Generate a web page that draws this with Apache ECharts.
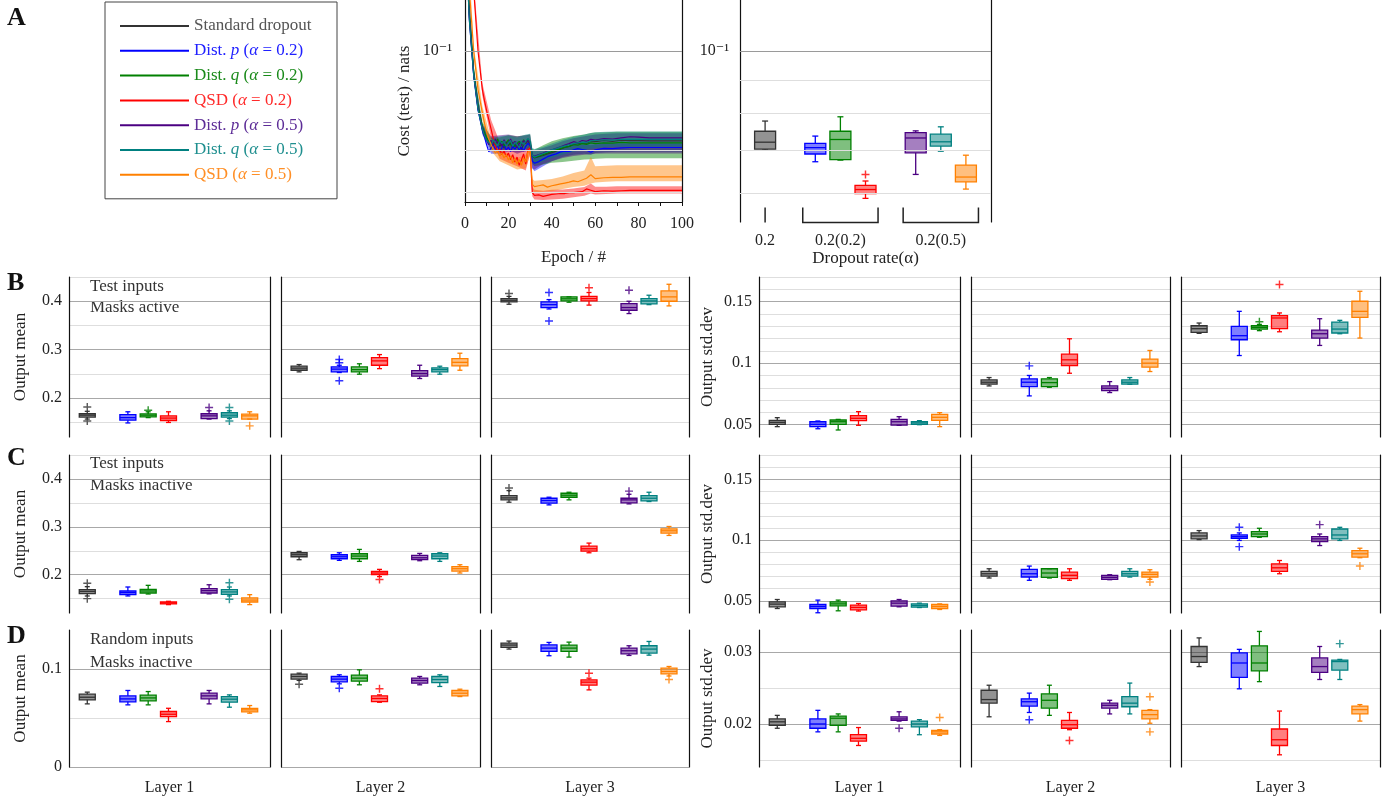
<!DOCTYPE html>
<html>
<head>
<meta charset="utf-8">
<title>Dropout variants: test cost and layer outputs</title>
<script src="https://cdn.jsdelivr.net/npm/echarts@6/dist/echarts.min.js"></script>
<style>
  html, body { margin: 0; padding: 0; background: #fff; }
  #main { width: 1385px; height: 800px; }
</style>
</head>
<body>
<div id="main"></div>
<script>
// ---------------- data ----------------
const NAMES = ['Standard dropout', 'Dist. p (α = 0.2)', 'Dist. q (α = 0.2)', 'QSD (α = 0.2)',
               'Dist. p (α = 0.5)', 'Dist. q (α = 0.5)', 'QSD (α = 0.5)'];

// panel A, left: test cost per epoch (mean of runs)
const EPOCHS = [0,2,4,6,8,9,10,11,12,13,14,15,16,17,18,19,20,21,22,23,24,25,26,27,28,29,30,31,32,
                34,36,38,40,42,44,46,48,50,52,54,56,58,60,64,68,72,76,80,85,90,95,100];
const L_STD = [.16,.114,.0925,.0815,.0758,.0740,.0728,.0720,
  .0716,.0724,.0712,.0721,.0709,.0717,.0704,.0720,.0711,.0718,.0705,.0714,.0707,.0712,.0701,.0714,.0718,.0722,.0715,
  .0685,.0680,
  .0683,.0686,.0690,.0693,.0697,.0702,.0706,.0709,.0714,.0716,.0718,.0717,.0722,.0721,
  .0724,.0722,.0725,.0724,.0724,.0723,.0723,.0723,.0723];
const L_P02 = [.16,.112,.0915,.0808,.0752,.0733,.0712,.0695,
  .0705,.0714,.0701,.0711,.0697,.0705,.0714,.0699,.0707,.0696,.0709,.0702,.0711,.0699,.0707,.0697,.0709,.0717,.0711,
  .0672,.0667,
  .0671,.0677,.0683,.0687,.0690,.0695,.0697,.0696,.0700,.0703,.0701,.0699,.0694,.0700,
  .0704,.0703,.0705,.0706,.0706,.0706,.0706,.0706,.0706];
const L_Q02 = [.16,.115,.0930,.0820,.0762,.0745,.0731,.0722,
  .0716,.0723,.0712,.0728,.0715,.0722,.0710,.0718,.0726,.0712,.0719,.0708,.0716,.0722,.0712,.0726,.0716,.0728,.0720,
  .0684,.0681,
  .0684,.0688,.0692,.0696,.0700,.0703,.0707,.0709,.0713,.0712,.0716,.0714,.0718,.0716,
  .0718,.0717,.0719,.0718,.0718,.0718,.0718,.0718,.0718];
const L_QSD02 = [.25,.16,.125,.100,.0870,.0835,.0805,.0780,
  .0755,.0730,.0710,.0695,.0702,.0688,.0697,.0683,.0692,.0676,.0688,.0670,.0682,.0662,.0675,.0690,.0665,.0700,.0705,
  .0600,.0594,
  .0595,.0592,.0594,.0596,.0597,.0598,.0598,.0600,.0600,.0601,.0602,.0608,.0605,.0602,
  .0604,.0603,.0604,.0605,.0605,.0605,.0605,.0605,.0605];
const L_P05 = [.16,.113,.0920,.0812,.0756,.0736,.0725,.0713,
  .0725,.0712,.0728,.0716,.0722,.0709,.0726,.0713,.0720,.0728,.0714,.0722,.0705,.0718,.0712,.0724,.0717,.0725,.0718,
  .0686,.0684,
  .0688,.0692,.0697,.0700,.0704,.0708,.0712,.0716,.0721,.0718,.0724,.0722,.0727,.0725,
  .0729,.0728,.0731,.0734,.0733,.0731,.0731,.0731,.0731];
const L_Q05 = [.16,.112,.0918,.0810,.0754,.0737,.0724,.0719,
  .0712,.0726,.0718,.0710,.0724,.0716,.0722,.0710,.0718,.0724,.0709,.0719,.0713,.0706,.0720,.0714,.0722,.0730,.0722,
  .0686,.0682,
  .0687,.0691,.0695,.0700,.0703,.0707,.0710,.0713,.0716,.0718,.0720,.0719,.0723,.0724,
  .0726,.0725,.0727,.0727,.0727,.0727,.0727,.0727,.0727];
const L_QSD05 = [.18,.125,.100,.0870,.0800,.0770,.0745,.0728,
  .0714,.0702,.0692,.0698,.0685,.0692,.0680,.0688,.0675,.0684,.0668,.0678,.0665,.0676,.0662,.0680,.0670,.0695,.0700,
  .0618,.0613,
  .0615,.0617,.0612,.0615,.0617,.0619,.0621,.0623,.0626,.0624,.0628,.0632,.0640,.0631,
  .0633,.0634,.0634,.0635,.0635,.0635,.0635,.0635,.0635];

// shaded spread around each curve
const BAND_EPOCHS = [0,4,8,12,16,20,24,28,30,31,32,36,40,45,50,55,58,60,65,70,80,90,100];
const BAND_P02_LO = [.158,.0900,.0740,.0690,.0690,.0695,.0695,.0695,.0702,.0655,.0648,.0660,.0672,.0682,.0688,.0690,.0688,.0692,.0694,.0695,.0695,.0695,.0695];
const BAND_P02_HI = [.162,.0930,.0765,.0722,.0715,.0720,.0722,.0722,.0725,.0690,.0686,.0692,.0700,.0708,.0712,.0714,.0712,.0714,.0716,.0716,.0716,.0716,.0716];
const BAND_Q02_LO = [.158,.0915,.0750,.0702,.0700,.0702,.0700,.0702,.0705,.0665,.0660,.0664,.0668,.0670,.0673,.0676,.0677,.0678,.0679,.0679,.0679,.0679,.0679];
const BAND_Q02_HI = [.162,.0945,.0775,.0732,.0732,.0738,.0735,.0738,.0740,.0702,.0700,.0712,.0722,.0730,.0736,.0740,.0744,.0745,.0746,.0747,.0747,.0747,.0747];
const BAND_QSD02_LO = [.245,.1220,.0850,.0730,.0678,.0668,.0660,.0650,.0690,.0592,.0585,.0584,.0585,.0587,.0590,.0593,.0598,.0596,.0597,.0598,.0598,.0598,.0598];
const BAND_QSD02_HI = [.255,.1280,.0890,.0780,.0720,.0712,.0702,.0700,.0718,.0612,.0606,.0604,.0606,.0607,.0609,.0612,.0620,.0613,.0613,.0614,.0614,.0614,.0614];
const BAND_P05_LO = [.158,.0905,.0744,.0700,.0698,.0700,.0690,.0698,.0700,.0655,.0652,.0665,.0672,.0680,.0685,.0688,.0689,.0690,.0691,.0691,.0691,.0691,.0691];
const BAND_P05_HI = [.162,.0935,.0768,.0735,.0738,.0740,.0735,.0738,.0740,.0700,.0698,.0705,.0712,.0722,.0730,.0735,.0738,.0740,.0742,.0743,.0743,.0743,.0743];
const BAND_Q05_LO = [.158,.0905,.0742,.0700,.0700,.0702,.0698,.0702,.0705,.0668,.0664,.0672,.0680,.0688,.0695,.0700,.0703,.0705,.0707,.0708,.0708,.0708,.0708];
const BAND_Q05_HI = [.162,.0930,.0766,.0730,.0735,.0738,.0732,.0740,.0742,.0705,.0702,.0708,.0716,.0726,.0734,.0740,.0744,.0746,.0747,.0748,.0748,.0748,.0748];
const BAND_QSD05_LO = [.178,.0980,.0780,.0698,.0672,.0662,.0652,.0655,.0688,.0605,.0600,.0602,.0603,.0608,.0612,.0615,.0620,.0622,.0624,.0625,.0625,.0625,.0625];
const BAND_QSD05_HI = [.182,.1020,.0820,.0728,.0700,.0690,.0680,.0688,.0712,.0630,.0626,.0628,.0630,.0636,.0644,.0650,.0683,.0660,.0661,.0662,.0662,.0662,.0662];
const LOG_GRID = [0.06, 0.07, 0.08, 0.09, 0.1];

// panel A, right: final cost, one box per model  [min, Q1, median, Q3, max]
const BOX_A = [[.0700,.0702,.0720,.0749,.0777],[.0671,.0690,.0706,.0717,.0736],[.0675,.0676,.0727,.0749,.0789],
               [.0588,.0598,.0607,.0616,.0626],[.0641,.0693,.0731,.0745,.0750],[.0697,.0710,.0721,.0741,.0761],
               [.0608,.0624,.0635,.0663,.0687]];
const OUT_A = [[3, .0641]];
const GROUP_POS = [0, 3, 7];
const GROUP_LABELS = ['0.2', '0.2(0.2)', '0.2(0.5)'];
const BRACKETS = [[0, 0], [1.5, 4.5], [5.5, 8.5]];

// panels B-D: per layer, 7 boxes [min, Q1, median, Q3, max]; outliers as [box, value]
const B_MEAN = [
  [[.157,.161,.165,.168,.173],[.149,.1546,.160,.1663,.172],[.160,.1615,.165,.1677,.172],[.150,.154,.159,.1636,.172],
   [.157,.158,.1636,.168,.174],[.158,.161,.165,.170,.174],[.157,.157,.1636,.167,.172]],
  [[.2543,.2577,.262,.266,.2694],[.253,.2543,.260,.2646,.268],[.2495,.2543,.259,.2646,.271],[.261,.268,.277,.2838,.290],
   [.2406,.2454,.251,.257,.268],[.2495,.2543,.259,.2625,.266],[.2577,.2667,.274,.2818,.2928]],
  [[.3938,.3986,.402,.4055,.410],[.384,.387,.393,.3986,.4034],[.398,.4007,.405,.409,.409],[.392,.4007,.4055,.410,.418],
   [.3746,.3814,.387,.395,.400],[.393,.3945,.4007,.4055,.4124],[.3904,.400,.409,.4213,.435]]];
const B_MEAN_OUT = [
  [[0,.182],[0,.153],[2,.175],[4,.181],[5,.181],[5,.153],[6,.143]],
  [[1,.280],[1,.273],[1,.236]],
  [[0,.416],[1,.418],[1,.3594],[3,.428],[4,.4227]]];
const B_STD = [
  [[.0484,.0503,.0519,.0535,.0557],[.0467,.0484,.0503,.0524,.0530],[.0457,.0503,.0524,.0538,.0543],[.0495,.0533,.0552,.0573,.0606],
   [.0495,.0497,.0524,.0543,.0565],[.0500,.0503,.0514,.0524,.0533],[.0484,.0535,.0560,.0584,.0598]],
  [[.0815,.0829,.0845,.0864,.0883],[.0734,.0810,.0845,.0872,.0900],[.0804,.0810,.0842,.0872,.0883],[.0918,.0981,.1027,.1073,.1198],
   [.0761,.0777,.0796,.0815,.0850],[.0829,.0830,.0845,.0864,.0883],[.0932,.0967,.1000,.1033,.1103]],
  [[.1242,.1250,.1280,.1304,.1326],[.1062,.1190,.1223,.1299,.1421],[.1264,.1277,.1290,.1304,.1315],[.1255,.1280,.1367,.1386,.1408],
   [.1144,.1204,.1239,.1269,.1361],[.1239,.1245,.1277,.1334,.1348],[.1204,.1372,.1421,.1503,.1584]]];
const B_STD_OUT = [[], [[1,.0978]], [[2,.1337],[3,.1639]]];
const C_MEAN = [
  [[.1555,.1604,.165,.1688,.175],[.1556,.1583,.1625,.166,.1743],[.1597,.1618,.166,.1694,.1778],[.1375,.1389,.141,.143,.1444],
   [.160,.1618,.1667,.1708,.179],[.1556,.159,.164,.1688,.1743],[.1375,.143,.147,.1514,.1583]],
  [[.2313,.2375,.2417,.2458,.2486],[.2299,.2333,.2375,.2417,.2458],[.2278,.2333,.2389,.2437,.2528],[.196,.200,.2035,.2069,.2111],
   [.2292,.2313,.2354,.2403,.2444],[.2278,.2333,.2389,.2437,.2458],[.2035,.2076,.2125,.2167,.2208]],
  [[.3514,.3563,.3604,.3653,.3757],[.3458,.3493,.3549,.3597,.3618],[.3563,.3618,.366,.3701,.3722],[.2458,.2493,.2542,.2597,.266],
   [.3479,.350,.3563,.3597,.368],[.3528,.3542,.3597,.3653,.3722],[.282,.2868,.2917,.2958,.3007]]];
const C_MEAN_OUT = [[[0,.182],[0,.150],[5,.1833],[5,.1486]], [[3,.190]], [[0,.381],[4,.3745]]];
const C_STD = [
  [[.0437,.0451,.0473,.0492,.0511],[.0402,.0437,.0454,.0470,.0506],[.0418,.0459,.0475,.0492,.0506],[.0416,.0426,.0446,.0465,.0478],
   [.0451,.0456,.0481,.0500,.0511],[.0445,.0448,.0462,.0475,.0481],[.0429,.0437,.0454,.0470,.0475]],
  [[.0688,.0704,.0723,.0743,.0764],[.0669,.0696,.0723,.0759,.0786],[.0688,.0693,.0729,.0764,.0765],[.0669,.0683,.0710,.0737,.0764],
   [.0674,.0677,.0693,.0710,.0715],[.0696,.0704,.0723,.0743,.0764],[.0677,.0696,.0718,.0737,.0756]],
  [[.1004,.1010,.1034,.1059,.1078],[.0997,.1015,.1029,.1042,.1059],[.1023,.1029,.1050,.1069,.1097],[.0723,.0743,.0772,.0805,.0832],
   [.0955,.0988,.1010,.1029,.1050],[.0997,.1010,.1042,.1091,.1105],[.0855,.0860,.0887,.0914,.0933]]];
const C_STD_OUT = [[], [[6,.0655]], [[1,.1105],[1,.0946],[4,.1127],[6,.0786]]];
const D_MEAN = [
  [[.0645,.0686,.0713,.0744,.0765],[.0635,.0666,.0696,.0727,.0782],[.0635,.0676,.0706,.0734,.0771],[.0464,.0515,.0539,.0567,.0600],
   [.0645,.0696,.0727,.0754,.0782],[.0611,.0662,.0693,.0720,.0737],[.0550,.0563,.0584,.0600,.0628]],
  [[.0885,.0898,.0925,.0949,.0959],[.0850,.0870,.0898,.0925,.0942],[.0840,.0877,.0908,.0939,.0993],[.0662,.0669,.0700,.0727,.0737],
   [.0840,.0857,.0884,.0908,.0925],[.0823,.0863,.0894,.0925,.0942],[.0720,.0727,.0754,.0782,.0795]],
  [[.1205,.1222,.1246,.1266,.1287],[.1137,.1181,.1215,.1249,.1273],[.1123,.1181,.1215,.1246,.1276],[.0788,.0836,.0867,.0891,.0908],
   [.1140,.1157,.1188,.1215,.1239],[.1143,.1164,.1205,.1239,.1283],[.0930,.0952,.0976,.1010,.1027]]];
const D_MEAN_OUT = [[], [[0,.0846],[1,.0805],[3,.0799]], [[3,.0959],[6,.0895]]];
const D_STD = [
  [[.0194,.0198,.0203,.0207,.0212],[.0189,.0194,.0200,.0207,.0219],[.0189,.0198,.0208,.0211,.0214],[.0170,.0176,.0180,.0185,.0195],
   [.0204,.0205,.0207,.0210,.0217],[.0185,.0196,.0200,.0204,.0206],[.0184,.0186,.0189,.0191,.0192]],
  [[.0210,.0229,.0234,.0247,.0254],[.0216,.0225,.0231,.0235,.0243],[.0212,.0222,.0233,.0242,.0254],[.0192,.0194,.0199,.0205,.0216],
   [.0214,.0222,.0226,.0229,.0233],[.0214,.0224,.0229,.0238,.0257],[.0201,.0207,.0213,.0219,.0220]],
  [[.0280,.0286,.0294,.0308,.0320],[.0249,.0265,.0285,.0299,.0304],[.0259,.0274,.0285,.0309,.0329],[.0157,.0170,.0178,.0193,.0218],
   [.0262,.0272,.0280,.0292,.0308],[.0262,.0275,.0287,.0289,.0290],[.0204,.0214,.0220,.0225,.0227]]];
const D_STD_OUT = [[[4,.0194],[6,.0209]], [[1,.0206],[3,.0177],[6,.0238],[6,.0189]], [[5,.0312]]];

// y-axis ticks (grid lines) and labelled ticks
const MEAN_BC_TICKS = [0.15, 0.2, 0.25, 0.3, 0.35, 0.4, 0.45];
const MEAN_BC_LABELS = [0.2, 0.3, 0.4];
const STD_BC_TICKS = [0.05, 0.06, 0.07, 0.08, 0.09, 0.1, 0.11, 0.12, 0.13, 0.14, 0.15, 0.16, 0.17];
const STD_BC_LABELS = [0.05, 0.1, 0.15];
const MEAN_D_TICKS = [0, 0.05, 0.1];
const MEAN_D_LABELS = [0, 0.1];
const STD_D_TICKS = [0.015, 0.02, 0.025, 0.03];
const STD_D_LABELS = [0.02, 0.03];
const LAYERS = ['Layer 1', 'Layer 2', 'Layer 3'];

// ---------------- styling ----------------
const FONT = '"Liberation Serif", "DejaVu Serif", serif';
const COLORS = ['#333333', '#0000ff', '#008000', '#ff0000', '#4b0082', '#008080', '#ff8000'];
const FILLS = ['rgba(40,40,40,0.5)', 'rgba(0,0,255,0.5)', 'rgba(0,128,0,0.5)', 'rgba(255,0,0,0.5)',
               'rgba(75,0,130,0.5)', 'rgba(0,128,128,0.5)', 'rgba(255,128,0,0.5)'];
const LEGEND_TEXT = ['#555', '#2020ff', '#1a8a1a', '#ff2a2a', '#5d2d97', '#1f8f8f', '#ff8f26'];
const SLOTS = [0, 2, 3, 4, 6, 7, 8];
const LIGHT = '#dedede', DARK = '#a8a8a8';
const PLUS = 'path://M0,4.1H10V5.9H0ZM4.1,0H5.9V10H4.1Z';

const option = {
  animation: false,
  backgroundColor: '#fff',
  grid: [], xAxis: [], yAxis: [], series: [], graphic: []
};

function addGrid(rect, xAxis, yAxis) {
  const gi = option.grid.length;
  option.grid.push({ left: rect[0], top: rect[1], width: rect[2], height: rect[3] });
  option.xAxis.push(Object.assign({
    gridIndex: gi, type: 'value',
    axisLine: { show: false }, axisTick: { show: false }, axisLabel: { show: false }, splitLine: { show: false }
  }, xAxis));
  const yi = option.yAxis.length;
  option.yAxis.push(Object.assign({
    gridIndex: gi, position: 'left',
    axisLine: { show: true, onZero: false, lineStyle: { color: '#111', width: 1.2 } },
    axisTick: { show: false }
  }, yAxis));
  // right-hand spine
  option.yAxis.push({
    gridIndex: gi, type: yAxis.type, logBase: yAxis.logBase, min: yAxis.min, max: yAxis.max, position: 'right',
    axisLine: { show: true, onZero: false, lineStyle: { color: '#111', width: 1.2 } },
    axisTick: { show: false }, axisLabel: { show: false }, splitLine: { show: false }
  });
  return { x: gi, y: yi };
}

function boxRenderer(boxW, capW) {
  return function (params, api) {
    const i = params.dataIndex;
    const x = api.value(0);
    const p = [1, 2, 3, 4, 5].map(k => api.coord([x, api.value(k)]));
    const cx = p[0][0], h = boxW / 2, cw = capW / 2;
    const ls = { stroke: COLORS[i], lineWidth: 1.3 };
    return {
      type: 'group',
      children: [
        { type: 'line', shape: { x1: cx, y1: p[0][1], x2: cx, y2: p[1][1] }, style: ls },
        { type: 'line', shape: { x1: cx, y1: p[3][1], x2: cx, y2: p[4][1] }, style: ls },
        { type: 'line', shape: { x1: cx - cw, y1: p[0][1], x2: cx + cw, y2: p[0][1] }, style: ls },
        { type: 'line', shape: { x1: cx - cw, y1: p[4][1], x2: cx + cw, y2: p[4][1] }, style: ls },
        { type: 'rect', shape: { x: cx - h, y: p[3][1], width: boxW, height: Math.max(p[1][1] - p[3][1], 1.5) },
          style: { fill: FILLS[i], stroke: COLORS[i], lineWidth: 1.3 } },
        { type: 'line', shape: { x1: cx - h, y1: p[2][1], x2: cx + h, y2: p[2][1] }, style: ls }
      ]
    };
  };
}

function addBoxes(ax, boxes, outs, boxW, capW) {
  option.series.push({
    type: 'custom', xAxisIndex: ax.x, yAxisIndex: ax.y, silent: true, z: 3,
    encode: { x: 0, y: [1, 2, 3, 4, 5] },
    data: boxes.map((b, i) => [SLOTS[i]].concat(b)),
    renderItem: boxRenderer(boxW, capW)
  });
  if (outs.length) {
    option.series.push({
      type: 'scatter', xAxisIndex: ax.x, yAxisIndex: ax.y, silent: true, z: 4,
      symbol: PLUS, symbolSize: 8,
      data: outs.map(o => ({ value: [SLOTS[o[0]], o[1]], itemStyle: { color: COLORS[o[0]] } }))
    });
  }
}

// ---------------- panel A: cost curves ----------------
function logLabel(v) {
  return Math.abs(Math.log10(v) + 1) < 1e-6 ? '10⁻¹' : '';
}
const axLine = addGrid([465, 0, 217, 202], {
  min: 0, max: 100, interval: 10,
  axisLine: { show: true, onZero: false, lineStyle: { color: '#111', width: 1.2 } },
  axisTick: { show: true, length: 4, lineStyle: { color: '#111' } },
  axisLabel: { show: true, margin: 14, fontFamily: FONT, fontSize: 16, color: '#222',
               formatter: v => (v % 20 === 0 ? String(v) : '') },
  name: 'Epoch / #', nameLocation: 'middle', nameGap: 47,
  nameTextStyle: { fontFamily: FONT, fontSize: 17, color: '#222' }
}, {
  type: 'log', logBase: 10, min: 0.058, max: 0.1202,
  axisLabel: { margin: 13, fontFamily: FONT, fontSize: 16, color: '#222', formatter: logLabel },
  splitLine: { show: false },
  name: 'Cost (test) / nats', nameLocation: 'middle', nameGap: 52,
  nameTextStyle: { fontFamily: FONT, fontSize: 17, color: '#222' }
});

function gridLines(ax) {
  option.series.push({
    type: 'line', xAxisIndex: ax.x, yAxisIndex: ax.y, data: [], silent: true, z: 1,
    markLine: {
      silent: true, symbol: ['none', 'none'], label: { show: false }, animation: false,
      data: LOG_GRID.map(v => ({ yAxis: v, lineStyle: { color: v === 0.1 ? '#9a9a9a' : LIGHT, width: 1.2, type: 'solid' } }))
    }
  });
}
gridLines(axLine);

const CURVES = [L_STD, L_P02, L_Q02, L_QSD02, L_P05, L_Q05, L_QSD05];
const BANDS = [null, [BAND_P02_LO, BAND_P02_HI], [BAND_Q02_LO, BAND_Q02_HI], [BAND_QSD02_LO, BAND_QSD02_HI],
               [BAND_P05_LO, BAND_P05_HI], [BAND_Q05_LO, BAND_Q05_HI], [BAND_QSD05_LO, BAND_QSD05_HI]];
BANDS.forEach((band, k) => {
  if (!band) return;
  option.series.push({
    type: 'custom', xAxisIndex: axLine.x, yAxisIndex: axLine.y, silent: true, z: 2,
    data: [[50, 0.07]],
    renderItem: function (params, api) {
      const pts = BAND_EPOCHS.map((e, i) => api.coord([e, band[1][i]]));
      for (let i = BAND_EPOCHS.length - 1; i >= 0; i--) pts.push(api.coord([BAND_EPOCHS[i], band[0][i]]));
      const cs = params.coordSys;
      return {
        type: 'group',
        clipPath: { type: 'rect', shape: { x: cs.x, y: cs.y, width: cs.width, height: cs.height } },
        children: [{ type: 'polygon', shape: { points: pts }, style: { fill: FILLS[k].replace('0.5)', '0.45)') } }]
      };
    }
  });
});
CURVES.forEach((vals, k) => {
  option.series.push({
    name: NAMES[k], type: 'line', xAxisIndex: axLine.x, yAxisIndex: axLine.y, z: 3,
    data: EPOCHS.map((e, i) => [e, vals[i]]),
    showSymbol: false, clip: true,
    itemStyle: { color: COLORS[k] },
    lineStyle: { color: COLORS[k], width: 1.2 }
  });
});

// ---------------- panel A: final cost boxes ----------------
const A_YMIN = 0.054;
const axBoxA = addGrid([740, 0, 251, 222], {
  min: -1, max: 9,
  axisLabel: { show: true, customValues: GROUP_POS, margin: 11, fontFamily: FONT, fontSize: 16, color: '#222',
               formatter: v => GROUP_LABELS[GROUP_POS.indexOf(v)] || '' },
  name: 'Dropout rate(α)', nameLocation: 'middle', nameGap: 27,
  nameTextStyle: { fontFamily: FONT, fontSize: 17, color: '#222' }
}, {
  type: 'log', logBase: 10, min: A_YMIN, max: 0.1202,
  axisLabel: { margin: 11, fontFamily: FONT, fontSize: 16, color: '#222', formatter: logLabel },
  splitLine: { show: false }
});
gridLines(axBoxA);
addBoxes(axBoxA, BOX_A, OUT_A, 21, 6);
option.series.push({
  type: 'custom', xAxisIndex: axBoxA.x, yAxisIndex: axBoxA.y, silent: true, z: 3,
  encode: { x: [0, 1], y: 2 },
  data: BRACKETS.map(b => [b[0], b[1], A_YMIN]),
  renderItem: function (params, api) {
    const a = api.coord([api.value(0), api.value(2)]);
    const b = api.coord([api.value(1), api.value(2)]);
    const yb = a[1] + 0.5, yt = yb - 15;
    const st = { stroke: '#222', lineWidth: 1.5, fill: null };
    if (Math.abs(a[0] - b[0]) < 0.5) {
      return { type: 'line', shape: { x1: a[0], y1: yt, x2: a[0], y2: yb }, style: st };
    }
    return { type: 'polyline', shape: { points: [[a[0], yt], [a[0], yb], [b[0], yb], [b[0], yt]] }, style: st };
  }
});

// ---------------- panels B-D ----------------
const COLS_L = [[69, 201], [281, 199], [491, 198]];
const COLS_R = [[759, 201], [971, 199], [1181, 199]];
const ROWS = [[277, 160], [455, 158], [630, 137]];

const PANEL_ROWS = [
  { mean: B_MEAN, meanOut: B_MEAN_OUT, std: B_STD, stdOut: B_STD_OUT,
    m: { min: 0.12, max: 0.45, ticks: MEAN_BC_TICKS, labels: MEAN_BC_LABELS, split: [LIGHT, DARK] },
    s: { min: 0.04, max: 0.17, ticks: STD_BC_TICKS, labels: STD_BC_LABELS, split: [DARK, LIGHT, LIGHT, LIGHT, LIGHT] } },
  { mean: C_MEAN, meanOut: C_MEAN_OUT, std: C_STD, stdOut: C_STD_OUT,
    m: { min: 0.12, max: 0.45, ticks: MEAN_BC_TICKS, labels: MEAN_BC_LABELS, split: [LIGHT, DARK] },
    s: { min: 0.04, max: 0.17, ticks: STD_BC_TICKS, labels: STD_BC_LABELS, split: [DARK, LIGHT, LIGHT, LIGHT, LIGHT] } },
  { mean: D_MEAN, meanOut: D_MEAN_OUT, std: D_STD, stdOut: D_STD_OUT,
    m: { min: 0, max: 0.14, ticks: MEAN_D_TICKS, labels: MEAN_D_LABELS, split: [DARK, LIGHT] },
    s: { min: 0.014, max: 0.0331, ticks: STD_D_TICKS, labels: STD_D_LABELS, split: [LIGHT, DARK] } }
];

function boxGrid(col, row, cfg, first, yName, nameGap, layerName) {
  const xa = { min: -0.9, max: 9 };
  if (layerName) {
    Object.assign(xa, { name: layerName, nameLocation: 'middle', nameGap: 13,
      nameTextStyle: { fontFamily: FONT, fontSize: 16, color: '#222' } });
  }
  const ya = {
    type: 'value', min: cfg.min, max: cfg.max,
    axisTick: { show: false, customValues: cfg.ticks },
    axisLabel: { show: first, customValues: cfg.labels, margin: 7, fontFamily: FONT, fontSize: 16, color: '#222' },
    splitLine: { show: true, lineStyle: { color: cfg.split, width: 1.2 } }
  };
  if (first) {
    Object.assign(ya, { name: yName, nameLocation: 'middle', nameGap: nameGap,
      nameTextStyle: { fontFamily: FONT, fontSize: 17, color: '#222' } });
  }
  return addGrid([col[0], row[0], col[1], row[1]], xa, ya);
}

PANEL_ROWS.forEach((pr, r) => {
  for (let l = 0; l < 3; l++) {
    const layerName = r === 2 ? LAYERS[l] : null;
    const am = boxGrid(COLS_L[l], ROWS[r], pr.m, l === 0, 'Output mean', 40, layerName);
    addBoxes(am, pr.mean[l], pr.meanOut[l], 16, 5);
    const as = boxGrid(COLS_R[l], ROWS[r], pr.s, l === 0, 'Output std.dev', 43, layerName);
    addBoxes(as, pr.std[l], pr.stdOut[l], 16, 5);
  }
});

// ---------------- legend ----------------
function legendText(name) {
  const m = name.match(/^Dist\. ([pq]) \(α = (0\.\d)\)$/);
  if (m) return '{t|Dist. }{i|' + m[1] + '}{t| (}{i|α}{t| = ' + m[2] + ')}';
  const q = name.match(/^QSD \(α = (0\.\d)\)$/);
  if (q) return '{t|QSD (}{i|α}{t| = ' + q[1] + ')}';
  return '{t|' + name + '}';
}
option.legend = {
  orient: 'vertical', left: 105, top: 2,
  padding: [14, 17, 14, 15], itemGap: 4.8, itemWidth: 69, itemHeight: 2,
  icon: 'rect', selectedMode: false,
  borderColor: '#444', borderWidth: 1, backgroundColor: '#fff',
  data: NAMES.map((n, k) => ({ name: n, textStyle: { color: LEGEND_TEXT[k] } })),
  formatter: legendText,
  textStyle: {
    fontFamily: FONT, fontSize: 17, lineHeight: 20, width: 126,
    rich: {
      t: { fontFamily: FONT, fontSize: 17 },
      i: { fontFamily: FONT, fontSize: 17, fontStyle: 'italic' }
    }
  }
};

// ---------------- panel letters and annotations ----------------
const LETTERS = [['A', 18], ['B', 283], ['C', 458], ['D', 636]];
LETTERS.forEach(l => option.graphic.push({
  type: 'text', x: 7, y: l[1], silent: true,
  style: { text: l[0], fontFamily: FONT, fontSize: 26, fontWeight: 'bold', fill: '#111', verticalAlign: 'middle' }
}));
const NOTES = [['Test inputs', 287], ['Masks active', 308], ['Test inputs', 464], ['Masks inactive', 486],
               ['Random inputs', 640], ['Masks inactive', 663]];
NOTES.forEach(n => option.graphic.push({
  type: 'text', x: 90, y: n[1], silent: true,
  style: { text: n[0], fontFamily: FONT, fontSize: 17, fill: '#333', verticalAlign: 'middle' }
}));

const chart = echarts.init(document.getElementById('main'));
chart.setOption(option);
</script>
</body>
</html>
